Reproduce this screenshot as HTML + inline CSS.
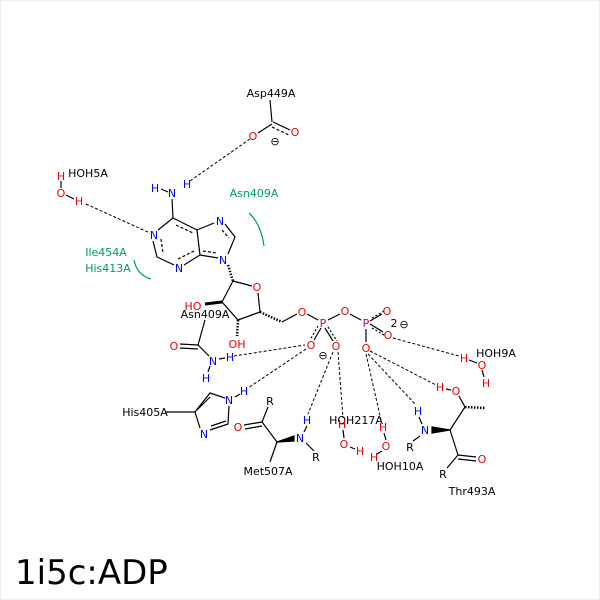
<!DOCTYPE html>
<html><head><style>
html,body{margin:0;padding:0;background:#fff}
svg{display:block}
text{font-family:"DejaVu Sans","Liberation Sans",sans-serif;font-size:11px}
.k{fill:#000}.r{fill:#e00}.b{fill:#00f}.g{fill:#096}.p{fill:#c07}
</style></head><body>
<svg width="600" height="600" viewBox="0 0 600 600">
<rect x="0.5" y="0.5" width="599" height="599" fill="#fff" stroke="#eee"/>
<g stroke="#000" stroke-width="1.2" fill="none">
<line x1="270" y1="100" x2="272" y2="122"/>
<line x1="272" y1="124" x2="258" y2="133"/>
<line x1="273" y1="122" x2="290" y2="130"/>
<line x1="272" y1="127" x2="289" y2="135" stroke-dasharray="3,2"/>
<line x1="172" y1="199" x2="173" y2="218"/>
<line x1="161" y1="189" x2="168" y2="192"/>
<line x1="61" y1="181" x2="61" y2="188"/>
<line x1="66" y1="195" x2="74" y2="199"/>
<polyline points="173,218 158,230"/>
<polyline points="153,241 157,257 174,265"/>
<polyline points="184,265 200,255 197,230 173,218"/>
<line x1="197" y1="230" x2="214" y2="223"/>
<polyline points="225,224 235,237 228,254"/>
<line x1="200" y1="255" x2="218" y2="258"/>
<g stroke-dasharray="3,2">
<line x1="176" y1="225" x2="193" y2="233"/>
<line x1="161" y1="239" x2="163" y2="253"/>
<line x1="178" y1="259" x2="194" y2="251"/>
<line x1="203" y1="251" x2="217" y2="253"/>
<line x1="222" y1="230" x2="229" y2="238"/>
</g>
<line x1="228" y1="265" x2="233" y2="281" stroke-dasharray="1.5,1.5" stroke-width="2.5"/>
<polyline points="233,281 252,286"/>
<polyline points="258,293 260,312 238,320 222,302 233,281"/>
<line x1="260" y1="312" x2="282" y2="322" stroke-dasharray="1.5,1.5" stroke-width="2.5"/>
<line x1="282" y1="322" x2="297" y2="314"/>
<line x1="222" y1="302" x2="205" y2="304" stroke-width="3"/>
<line x1="238" y1="320" x2="237" y2="336" stroke-dasharray="1.5,1.5" stroke-width="2.5"/>
<line x1="307" y1="314" x2="318" y2="320"/>
<line x1="328" y1="320" x2="340" y2="314"/>
<line x1="350" y1="314" x2="361" y2="320"/>
<line x1="370" y1="321" x2="382" y2="314"/>
<line x1="370" y1="324" x2="383" y2="332"/>
<line x1="372" y1="318" x2="384" y2="311" stroke-dasharray="2,2"/>
<line x1="372" y1="328" x2="384" y2="335" stroke-dasharray="2,2"/>
<line x1="321" y1="328" x2="314" y2="340"/>
<line x1="325" y1="328" x2="333" y2="341"/>
<line x1="318" y1="326" x2="310" y2="340" stroke-dasharray="2,2"/>
<line x1="328" y1="327" x2="337" y2="341" stroke-dasharray="2,2"/>
<line x1="366" y1="329" x2="366" y2="342"/>
<line x1="205" y1="320" x2="198" y2="345"/>
<line x1="198" y1="345" x2="180" y2="344"/>
<line x1="198" y1="349" x2="180" y2="348"/>
<line x1="198" y1="345" x2="209" y2="356"/>
<line x1="219" y1="359" x2="225" y2="358"/>
<line x1="210" y1="366" x2="208" y2="372"/>
<line x1="165" y1="412" x2="195" y2="412"/>
<polyline points="195,412 210,393 225,398"/>
<line x1="197" y1="410" x2="210" y2="397"/>
<polyline points="229,406 228,424 210,430"/>
<line x1="226" y1="421" x2="211" y2="426"/>
<line x1="200" y1="428" x2="195" y2="412"/>
<line x1="235" y1="397" x2="240" y2="394"/>
<line x1="244" y1="425" x2="262" y2="422"/>
<line x1="245" y1="429" x2="262" y2="426"/>
<line x1="262" y1="422" x2="268" y2="407"/>
<line x1="262" y1="422" x2="277" y2="442"/>
<polygon points="277,442 294,436 294,441" fill="#000"/>
<line x1="277" y1="442" x2="270" y2="462"/>
<line x1="306" y1="443" x2="314" y2="451"/>
<line x1="307" y1="426" x2="304" y2="432"/>
<line x1="343" y1="430" x2="344" y2="438"/>
<line x1="350" y1="447" x2="355" y2="449"/>
<line x1="384" y1="433" x2="386" y2="440"/>
<line x1="382" y1="451" x2="377" y2="454"/>
<line x1="419" y1="417" x2="422" y2="424"/>
<line x1="420" y1="436" x2="413" y2="441"/>
<polygon points="450,430 432,427 432,433" fill="#000"/>
<line x1="450" y1="430" x2="465" y2="407"/>
<line x1="465" y1="407" x2="459" y2="396"/>
<line x1="465" y1="407" x2="485" y2="408" stroke-dasharray="1.5,1.5" stroke-width="2.5"/>
<line x1="450" y1="430" x2="458" y2="455"/>
<line x1="458" y1="455" x2="476" y2="457"/>
<line x1="458" y1="459" x2="476" y2="461"/>
<line x1="458" y1="455" x2="447" y2="468"/>
<line x1="446" y1="389" x2="451" y2="390"/>
<line x1="469" y1="360" x2="477" y2="363"/>
<line x1="482" y1="370" x2="484" y2="377"/>
</g>
<g stroke="#000" stroke-width="1" stroke-dasharray="3,2" fill="none">
<line x1="250" y1="139" x2="190" y2="181"/>
<line x1="86" y1="204" x2="150" y2="233"/>
<line x1="234" y1="356" x2="305" y2="345"/>
<line x1="306" y1="349" x2="248" y2="388"/>
<line x1="333" y1="352" x2="308" y2="414"/>
<line x1="338" y1="352" x2="343" y2="418"/>
<line x1="366" y1="354" x2="381" y2="420"/>
<line x1="368" y1="354" x2="416" y2="405"/>
<line x1="370" y1="351" x2="436" y2="385"/>
<line x1="393" y1="338" x2="459" y2="356"/>
</g>
<g stroke="#096" stroke-width="1.2" fill="none">
<path d="M249,213 Q261,224 264,246"/>
<path d="M134,260 Q137,275 151,279"/>
</g>
<g text-anchor="middle">
<text x="271" y="97" class="k">Asp449A</text>
<text x="253" y="140" class="r">O</text>
<text x="295" y="136" class="r">O</text>
<text x="275" y="145" class="k">⊖</text>
<text x="155" y="192" class="b">H</text>
<text x="172" y="197" class="b">N</text>
<text x="187" y="188" class="b">H</text>
<text x="61" y="180" class="r">H</text>
<text x="61" y="197" class="r">O</text>
<text x="79" y="205" class="r">H</text>
<text x="88" y="177" class="k">HOH5A</text>
<text x="154" y="239" class="b">N</text>
<text x="179" y="272" class="b">N</text>
<text x="223" y="264" class="b">N</text>
<text x="220" y="225" class="b">N</text>
<text x="254" y="197" class="g">Asn409A</text>
<text x="106" y="256" class="g">Ile454A</text>
<text x="108" y="272" class="g">His413A</text>
<text x="257" y="291" class="r">O</text>
<text x="193" y="310" class="r">HO</text>
<text x="205" y="318" class="k">Asn409A</text>
<text x="237" y="348" class="r">OH</text>
<text x="302" y="316" class="r">O</text>
<text x="323" y="327" class="p">P</text>
<text x="345" y="315" class="r">O</text>
<text x="366" y="327" class="p">P</text>
<text x="387" y="315" class="r">O</text>
<text x="388" y="339" class="r">O</text>
<text x="394" y="327" class="k" font-size="9">2</text>
<text x="404" y="328" class="k">⊖</text>
<text x="311" y="349" class="r">O</text>
<text x="336" y="350" class="r">O</text>
<text x="323" y="359" class="k">⊖</text>
<text x="366" y="352" class="r">O</text>
<text x="174" y="350" class="r">O</text>
<text x="213" y="365" class="b">N</text>
<text x="230" y="361" class="b">H</text>
<text x="206" y="382" class="b">H</text>
<text x="145" y="416" class="k">His405A</text>
<text x="229" y="404" class="b">N</text>
<text x="244" y="395" class="b">H</text>
<text x="204" y="438" class="b">N</text>
<text x="238" y="431" class="r">O</text>
<text x="270" y="405" class="k">R</text>
<text x="300" y="442" class="b">N</text>
<text x="307" y="424" class="b">H</text>
<text x="316" y="461" class="k">R</text>
<text x="268" y="475" class="k">Met507A</text>
<text x="356" y="424" class="k">HOH217A</text>
<text x="342" y="428" class="r">H</text>
<text x="344" y="448" class="r">O</text>
<text x="360" y="455" class="r">H</text>
<text x="383" y="431" class="r">H</text>
<text x="386" y="450" class="r">O</text>
<text x="374" y="461" class="r">H</text>
<text x="400" y="470" class="k">HOH10A</text>
<text x="418" y="415" class="b">H</text>
<text x="425" y="434" class="b">N</text>
<text x="410" y="451" class="k">R</text>
<text x="456" y="395" class="r">O</text>
<text x="440" y="391" class="r">H</text>
<text x="482" y="463" class="r">O</text>
<text x="443" y="478" class="k">R</text>
<text x="472" y="495" class="k">Thr493A</text>
<text x="496" y="357" class="k">HOH9A</text>
<text x="464" y="362" class="r">H</text>
<text x="482" y="369" class="r">O</text>
<text x="486" y="387" class="r">H</text>
</g>
<text x="15" y="584" style="font-size:34px" class="k">1i5c:ADP</text>
</svg>
</body></html>
